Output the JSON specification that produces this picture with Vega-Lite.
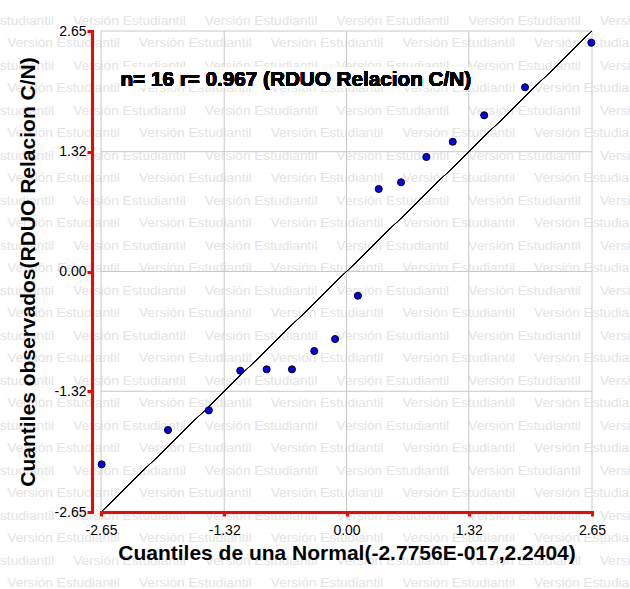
{
  "$schema": "https://vega.github.io/schema/vega-lite/v6.json",
  "width": 491,
  "height": 481,
  "autosize": {"type": "none"},
  "padding": {"left": 101, "top": 31, "right": 38, "bottom": 77},
  "background": "white",
  "config": {"font": "Liberation Sans", "view": {"stroke": null}},
  "datasets": {
    "qq": [
      {"normal": -2.643, "observed": -2.125},
      {"normal": -1.927, "observed": -1.747},
      {"normal": -1.486, "observed": -1.530},
      {"normal": -1.147, "observed": -1.093},
      {"normal": -0.862, "observed": -1.078},
      {"normal": -0.589, "observed": -1.078},
      {"normal": -0.348, "observed": -0.876},
      {"normal": -0.123, "observed": -0.744},
      {"normal": 0.123, "observed": -0.267},
      {"normal": 0.348, "observed": 0.909},
      {"normal": 0.589, "observed": 0.983},
      {"normal": 0.862, "observed": 1.262},
      {"normal": 1.147, "observed": 1.430},
      {"normal": 1.486, "observed": 1.721},
      {"normal": 1.927, "observed": 2.030},
      {"normal": 2.643, "observed": 2.521}
    ],
    "grid": [{"v": -2.65}, {"v": -1.32}, {"v": 0}, {"v": 1.32}, {"v": 2.65}],
    "watermark": [
      {"row": 0, "cols": [-0.5, 0.5, 1.5, 2.5, 3.5, 4.5]},
      {"row": 1, "cols": [0, 1, 2, 3, 4]},
      {"row": 2, "cols": [-0.5, 0.5, 1.5, 2.5, 3.5, 4.5]},
      {"row": 3, "cols": [0, 1, 2, 3, 4]},
      {"row": 4, "cols": [-0.5, 0.5, 1.5, 2.5, 3.5, 4.5]},
      {"row": 5, "cols": [0, 1, 2, 3, 4]},
      {"row": 6, "cols": [-0.5, 0.5, 1.5, 2.5, 3.5, 4.5]},
      {"row": 7, "cols": [0, 1, 2, 3, 4]},
      {"row": 8, "cols": [-0.5, 0.5, 1.5, 2.5, 3.5, 4.5]},
      {"row": 9, "cols": [0, 1, 2, 3, 4]},
      {"row": 10, "cols": [-0.5, 0.5, 1.5, 2.5, 3.5, 4.5]},
      {"row": 11, "cols": [0, 1, 2, 3, 4]},
      {"row": 12, "cols": [-0.5, 0.5, 1.5, 2.5, 3.5, 4.5]},
      {"row": 13, "cols": [0, 1, 2, 3, 4]},
      {"row": 14, "cols": [-0.5, 0.5, 1.5, 2.5, 3.5, 4.5]},
      {"row": 15, "cols": [0, 1, 2, 3, 4]},
      {"row": 16, "cols": [-0.5, 0.5, 1.5, 2.5, 3.5, 4.5]},
      {"row": 17, "cols": [0, 1, 2, 3, 4]},
      {"row": 18, "cols": [-0.5, 0.5, 1.5, 2.5, 3.5, 4.5]},
      {"row": 19, "cols": [0, 1, 2, 3, 4]},
      {"row": 20, "cols": [-0.5, 0.5, 1.5, 2.5, 3.5, 4.5]},
      {"row": 21, "cols": [0, 1, 2, 3, 4]},
      {"row": 22, "cols": [-0.5, 0.5, 1.5, 2.5, 3.5, 4.5]},
      {"row": 23, "cols": [0, 1, 2, 3, 4]},
      {"row": 24, "cols": [-0.5, 0.5, 1.5, 2.5, 3.5, 4.5]},
      {"row": 25, "cols": [0, 1, 2, 3, 4]}
    ]
  },
  "layer": [
    {
      "data": {"name": "watermark"},
      "transform": [{"flatten": ["cols"]}],
      "mark": {"type": "text", "text": "Versión Estudiantil", "align": "left", "baseline": "middle", "fontSize": 13.7, "color": "#e3e3e3"},
      "encoding": {
        "x": {"field": "cols", "type": "quantitative", "scale": {"domain": [0.7115, 4.4396], "nice": false, "zero": false}, "axis": null},
        "y": {"field": "row", "type": "quantitative", "scale": {"domain": [0.4578, 21.836], "reverse": true, "nice": false, "zero": false}, "axis": null}
      }
    },
    {
      "layer": [
        {
          "data": {"name": "grid"},
          "mark": {"type": "rule", "color": "#c8c8c8", "strokeWidth": 1},
          "encoding": {
            "x": {"field": "v", "type": "quantitative", "scale": {"domain": [-2.65, 2.65], "nice": false, "zero": false}}
          }
        },
        {
          "data": {"name": "grid"},
          "mark": {"type": "rule", "color": "#c8c8c8", "strokeWidth": 1},
          "encoding": {
            "y": {"field": "v", "type": "quantitative", "scale": {"domain": [-2.65, 2.65], "nice": false, "zero": false}}
          }
        },
        {
          "data": {"name": "qq"},
          "mark": {"type": "rect", "color": "white"},
          "encoding": {
            "x": {"datum": -2.445, "type": "quantitative"},
            "x2": {"datum": 1.387},
            "y": {"datum": 2.253, "type": "quantitative"},
            "y2": {"datum": 2.022}
          }
        },
        {
          "data": {"name": "qq"},
          "mark": {"type": "rule", "color": "black", "strokeWidth": 1},
          "encoding": {
            "x": {"datum": -2.65, "type": "quantitative"},
            "y": {"datum": -2.65, "type": "quantitative"},
            "x2": {"datum": 2.65},
            "y2": {"datum": 2.65}
          }
        },
        {
          "data": {"name": "qq"},
          "mark": {"type": "point", "filled": true, "fill": "#0000ff", "stroke": "black", "strokeWidth": 1, "size": 50, "opacity": 1},
          "encoding": {
            "x": {
              "field": "normal", "type": "quantitative",
              "scale": {"domain": [-2.65, 2.65], "nice": false, "zero": false},
              "axis": {
                "orient": "bottom",
                "title": "Cuantiles de una Normal(-2.7756E-017,2.2404)",
                "values": [-2.65, -1.32, 0, 1.32, 2.65],
                "labelExpr": "replace(format(datum.value, '.2f'), '−', '-')",
                "grid": false,
                "zindex": 1,
                "domainColor": "#ff0000", "domainWidth": 3, "domainCap": "square",
                "tickColor": "#ff0000", "tickWidth": 3, "tickSize": 4,
                "labelFontSize": 14, "labelColor": "black", "labelPadding": 7, "labelFlush": false, "labelOverlap": false,
                "titleFontSize": 21, "titleFontWeight": "bold", "titleColor": "black", "titlePadding": 5
              }
            },
            "y": {
              "field": "observed", "type": "quantitative",
              "scale": {"domain": [-2.65, 2.65], "nice": false, "zero": false},
              "axis": {
                "orient": "left",
                "offset": 9,
                "title": "Cuantiles observados(RDUO Relacion C/N)",
                "values": [-2.65, -1.32, 0, 1.32, 2.65],
                "labelExpr": "replace(format(datum.value, '.2f'), '−', '-')",
                "grid": false,
                "zindex": 1,
                "domainColor": "#ff0000", "domainWidth": 3, "domainCap": "square",
                "tickColor": "#ff0000", "tickWidth": 3, "tickSize": 5,
                "labelFontSize": 14, "labelColor": "black", "labelPadding": 1, "labelFlush": false, "labelOverlap": false,
                "titleFontSize": 21, "titleFontWeight": "bold", "titleColor": "black", "titlePadding": 16
              }
            }
          }
        },
        {
          "data": {"name": "qq"},
          "mark": {"type": "text", "text": "n= 16 r= 0.967 (RDUO Relacion C/N)", "align": "left", "baseline": "middle", "fontSize": 20.7, "fontWeight": "bold", "color": "black"},
          "encoding": {
            "x": {"datum": -2.44, "type": "quantitative"},
            "y": {"datum": 2.11, "type": "quantitative"}
          }
        }
      ]
    }
  ],
  "resolve": {"scale": {"x": "independent", "y": "independent"}}
}
